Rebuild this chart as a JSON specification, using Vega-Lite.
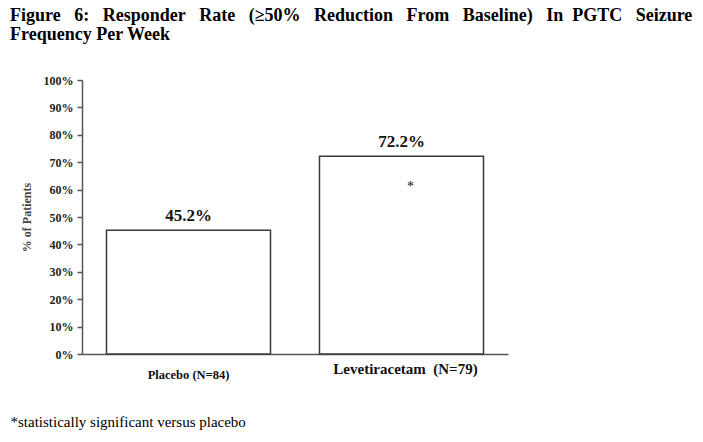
{
  "$schema": "https://vega.github.io/schema/vega-lite/v6.json",
  "autosize": {"type": "none"},
  "width": 426,
  "height": 274,
  "padding": {"left": 82, "top": 80, "right": 195, "bottom": 88},
  "background": "white",
  "config": {"view": {"stroke": null}},
  "title": {
    "text": ["Figure\u00a0\u00a0 6:\u00a0\u00a0 Responder\u00a0\u00a0 Rate\u00a0\u00a0 (≥50%\u00a0\u00a0 Reduction\u00a0\u00a0 From\u00a0\u00a0 Baseline)\u00a0\u00a0 In\u00a0 PGTC\u00a0\u00a0 Seizure", "Frequency Per Week"],
    "anchor": "start",
    "frame": "group",
    "dx": -72,
    "offset": 30,
    "font": "Liberation Serif",
    "fontSize": 18,
    "fontWeight": "bold",
    "lineHeight": 19,
    "color": "black"
  },
  "data": {
    "values": [
      {"group": "Placebo (N=84)", "rate": 45.2, "label": "45.2%", "note": ""},
      {"group": "Levetiracetam\u00a0 (N=79)", "rate": 72.2, "label": "72.2%", "note": "*"}
    ]
  },
  "encoding": {
    "x": {
      "field": "group",
      "type": "nominal",
      "sort": null,
      "scale": {"paddingInner": 0.23, "paddingOuter": 0.115},
      "axis": {
        "title": "*statistically significant versus placebo",
        "titleX": -72,
        "titleY": 72,
        "titleAlign": "left",
        "titleAnchor": "start",
        "titleBaseline": "alphabetic",
        "titleFont": "Liberation Serif",
        "titleFontSize": 15,
        "titleFontWeight": "normal",
        "titleColor": "black",
        "labelAngle": 0,
        "labelFont": "Liberation Serif",
        "labelFontWeight": "bold",
        "labelColor": "#111",
        "labelFontSize": {"condition": {"test": "indexof(datum.value, 'Levetiracetam') >= 0", "value": 15}, "value": 12.5},
        "labelPadding": {"condition": {"test": "indexof(datum.value, 'Levetiracetam') >= 0", "value": 7}, "value": 14},
        "labelOffset": {"condition": {"test": "indexof(datum.value, 'Levetiracetam') >= 0", "value": 4}, "value": 0},
        "ticks": false,
        "domainColor": "#555",
        "domainWidth": 1.5
      }
    },
    "y": {
      "field": "rate",
      "type": "quantitative",
      "scale": {"domain": [0, 100]},
      "axis": {
        "title": "% of Patients",
        "titleFont": "Liberation Serif",
        "titleFontSize": 12,
        "titleFontWeight": "bold",
        "titleColor": "#444",
        "titlePadding": 10,
        "values": [0, 10, 20, 30, 40, 50, 60, 70, 80, 90, 100],
        "labelExpr": "datum.value + '%'",
        "labelFont": "Liberation Serif",
        "labelFontSize": 12,
        "labelFontWeight": "bold",
        "labelColor": "#222",
        "labelPadding": 4,
        "tickSize": 5,
        "tickColor": "#555",
        "tickWidth": 1.5,
        "domainColor": "#555",
        "domainWidth": 1.5,
        "grid": false
      }
    }
  },
  "layer": [
    {"mark": {"type": "bar", "fill": "white", "stroke": "#3a3a3a", "strokeWidth": 1.5}},
    {
      "mark": {"type": "text", "baseline": "alphabetic", "dy": -9, "font": "Liberation Serif", "fontSize": 17, "fontWeight": "bold", "color": "#111"},
      "encoding": {"text": {"field": "label"}}
    },
    {
      "mark": {"type": "text", "baseline": "middle", "dx": 9, "dy": 31, "font": "Liberation Serif", "fontSize": 14, "color": "#111"},
      "encoding": {"text": {"field": "note"}}
    }
  ]
}
